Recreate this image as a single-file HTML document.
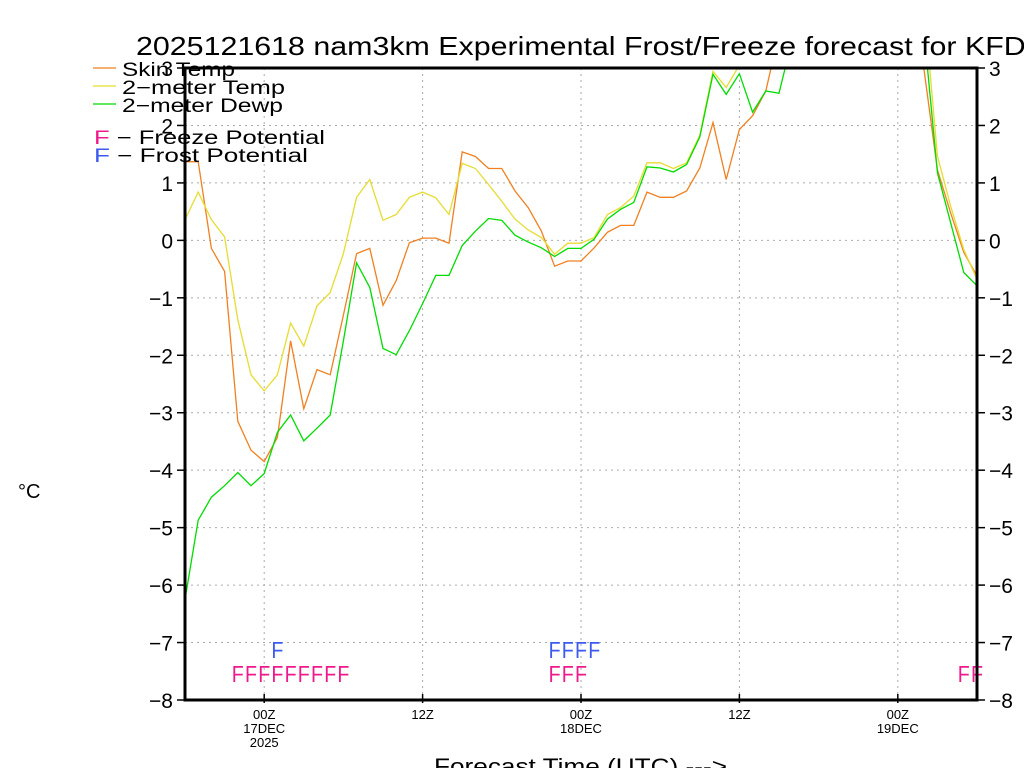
<!DOCTYPE html>
<html><head><meta charset="utf-8"><style>
html,body{margin:0;padding:0;background:#fff;}
svg{display:block;font-family:"Liberation Sans",sans-serif;}
</style></head><body>
<svg id="chart" width="1024" height="768" viewBox="0 0 1024 768" xmlns="http://www.w3.org/2000/svg">
<defs><clipPath id="plotclip"><rect x="185" y="68" width="792" height="632"/></clipPath></defs>
<text x="136" y="55" font-size="26" textLength="910" lengthAdjust="spacingAndGlyphs" fill="#000">2025121618 nam3km Experimental Frost/Freeze forecast for KFDY</text>
<g id="grid"></g>
<g id="series" clip-path="url(#plotclip)"></g>
<g id="marks"></g>
<g id="axes"></g>
<g font-size="19">
  <line x1="93" y1="68" x2="116" y2="68" stroke="#f08020" stroke-width="1.2"/>
  <text x="122" y="76" textLength="113" lengthAdjust="spacingAndGlyphs">Skin Temp</text>
  <line x1="93" y1="86" x2="116" y2="86" stroke="#e6dc32" stroke-width="1.2"/>
  <text x="122" y="94" textLength="163" lengthAdjust="spacingAndGlyphs">2−meter Temp</text>
  <line x1="93" y1="104" x2="116" y2="104" stroke="#00dc00" stroke-width="1.2"/>
  <text x="122" y="112" textLength="161" lengthAdjust="spacingAndGlyphs">2−meter Dewp</text>
  <text x="94" y="144" textLength="231" lengthAdjust="spacingAndGlyphs"><tspan fill="#f0198c">F</tspan> − Freeze Potential</text>
  <text x="94" y="162" textLength="214" lengthAdjust="spacingAndGlyphs"><tspan fill="#3c5af0">F</tspan> − Frost Potential</text>
</g>
<text x="18" y="498" font-size="20">°C</text>
<text x="434" y="774" font-size="22" textLength="293" lengthAdjust="spacingAndGlyphs">Forecast Time (UTC) ---&gt;</text>
</svg>
<script>
const hours = [];
for (let h = -6; h <= 54; h++) hours.push(h);
const skinTemp = [1.37,1.37,-0.14,-0.54,-3.15,-3.65,-3.85,-3.43,-1.75,-2.93,-2.25,-2.34,-1.3,-0.23,-0.14,-1.13,-0.7,-0.04,0.04,0.04,-0.05,1.54,1.46,1.25,1.25,0.86,0.57,0.16,-0.45,-0.36,-0.36,-0.13,0.14,0.26,0.26,0.84,0.75,0.75,0.86,1.26,2.05,1.06,1.93,2.17,2.6,3.6,4.2,4.6,4.9,5.1,5.2,5.2,5.1,4.9,4.6,4.0,2.95,1.23,0.48,-0.21,-0.62];
const temp2m = [0.36,0.84,0.36,0.06,-1.38,-2.34,-2.62,-2.34,-1.44,-1.84,-1.14,-0.91,-0.23,0.75,1.06,0.35,0.45,0.75,0.84,0.74,0.45,1.34,1.25,0.97,0.68,0.37,0.18,0.05,-0.24,-0.05,-0.05,0.05,0.45,0.57,0.77,1.35,1.35,1.25,1.35,1.83,2.94,2.66,3.05,3.4,3.7,4.0,4.3,4.6,4.9,5.1,5.2,5.2,5.1,5.0,4.8,4.6,4.1,1.47,0.6,-0.16,-0.68];
const dewp2m = [-6.25,-4.87,-4.47,-4.27,-4.04,-4.27,-4.06,-3.34,-3.04,-3.49,-3.27,-3.04,-1.75,-0.39,-0.82,-1.88,-1.99,-1.57,-1.1,-0.61,-0.61,-0.09,0.16,0.38,0.35,0.09,-0.03,-0.13,-0.28,-0.14,-0.14,0.02,0.37,0.54,0.66,1.28,1.26,1.19,1.32,1.8,2.89,2.54,2.9,2.23,2.6,2.56,3.5,4.0,4.3,4.5,4.6,4.6,4.5,4.3,4.1,3.9,3.6,1.18,0.31,-0.56,-0.79];
const freezeHours = [-2,-1,0,1,2,3,4,5,6,22,23,24,53,54];
const frostHours = [1,22,23,24,25];
const yTicks = [-8,-7,-6,-5,-4,-3,-2,-1,0,1,2,3];
const xTickHours = [0,12,24,36,48];
const xTickLabels = [["00Z","17DEC","2025"],["12Z"],["00Z","18DEC"],["12Z"],["00Z","19DEC"]];

const X0=185, X1=977, Y0=68, Y1=700;
function xs(h){return X0+(h+6)/60*(X1-X0);}
function ys(v){return Y1-(v+8)/11*(Y1-Y0);}
const NS="http://www.w3.org/2000/svg";
function mk(tag,attrs,parent){const e=document.createElementNS(NS,tag);for(const k in attrs)e.setAttribute(k,attrs[k]);parent.appendChild(e);return e;}

const grid=document.getElementById('grid');
yTicks.forEach(v=>{
  if(v===-8||v===3) return;
  const l=mk('line',{x1:X0,x2:X1,y1:ys(v),y2:ys(v),stroke:'#aaa','stroke-dasharray':'2,4','stroke-width':1},grid);
  
  
});
xTickHours.forEach(h=>{
  const l=mk('line',{x1:xs(h),x2:xs(h),y1:Y0,y2:Y1,stroke:'#aaa','stroke-dasharray':'2,4','stroke-width':1},grid);
  
  
});

const series=document.getElementById('series');
[[skinTemp,'#f08020','skin-temp-line'],[temp2m,'#e6dc32','temp-2m-line'],[dewp2m,'#00dc00','dewpoint-2m-line']].forEach(([arr,col,name])=>{
  const pts=arr.map((v,i)=>xs(hours[i]).toFixed(1)+','+ys(v).toFixed(1)).join(' ');
  const p=mk('polyline',{points:pts,fill:'none',stroke:col,'stroke-width':1.3},series);
  
  
});

const marks=document.getElementById('marks');
freezeHours.forEach(h=>{
  const t=mk('text',{x:xs(h)-6,y:682,'font-size':23,fill:'#f0198c',textLength:12,lengthAdjust:'spacingAndGlyphs'},marks);
  t.textContent='F';
  
  
});
frostHours.forEach(h=>{
  const t=mk('text',{x:xs(h)-6,y:658,'font-size':23,fill:'#3c5af0',textLength:12,lengthAdjust:'spacingAndGlyphs'},marks);
  t.textContent='F';
  
  
});

const axes=document.getElementById('axes');
const frame=mk('rect',{x:X0,y:Y0,width:X1-X0,height:Y1-Y0,fill:'none',stroke:'#000','stroke-width':3},axes);


yTicks.forEach(v=>{
  const y=ys(v);
  const lab=(v<0?'−'+(-v):''+v);
  const t1=mk('line',{x1:X0-8,x2:X0,y1:y,y2:y,stroke:'#000','stroke-width':1.5},axes);
  
  
  const t2=mk('line',{x1:X1,x2:X1+8,y1:y,y2:y,stroke:'#000','stroke-width':1.5},axes);
  
  
  const l1=mk('text',{x:X0-12,y:y+8,'font-size':21,'text-anchor':'end'},axes);
  l1.textContent=lab;
  
  
  const l2=mk('text',{x:X1+12,y:y+8,'font-size':21},axes);
  l2.textContent=lab;
  
  
});
xTickHours.forEach((h,i)=>{
  const x=xs(h);
  const tk=mk('line',{x1:x,x2:x,y1:Y1-6,y2:Y1+3,stroke:'#000','stroke-width':1.5},axes);
  
  
  xTickLabels[i].forEach((s,j)=>{
    const t=mk('text',{x:x,y:719+j*14,'font-size':13,'text-anchor':'middle'},axes);
    t.textContent=s;
    
    
  });
});
</script>
</body></html>
